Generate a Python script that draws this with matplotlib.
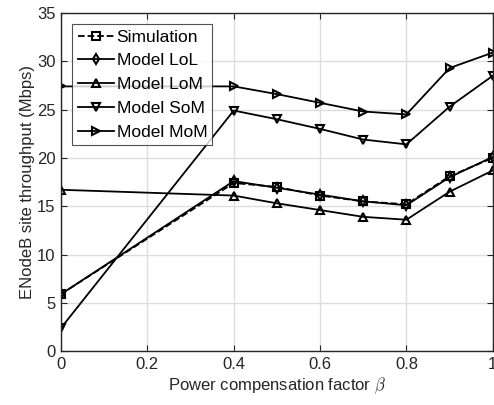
import matplotlib
matplotlib.use("Agg")
import matplotlib.pyplot as plt

plt.rcParams["font.family"] = ["Liberation Sans", "DejaVu Sans"]
plt.rcParams["mathtext.fontset"] = "cm"

beta = [0.0, 0.4, 0.5, 0.6, 0.7, 0.8, 0.9, 1.0]
simulation = [5.9, 17.4, 17.0, 16.1, 15.5, 15.2, 18.1, 20.0]
model_lol = [5.9, 17.6, 16.9, 16.2, 15.5, 15.1, 18.0, 20.1]
model_lom = [16.7, 16.1, 15.3, 14.6, 13.9, 13.6, 16.5, 18.7]
model_som = [2.4, 24.9, 24.0, 23.0, 21.9, 21.4, 25.3, 28.5]
model_mom = [27.4, 27.4, 26.6, 25.7, 24.8, 24.5, 29.3, 30.9]

fig = plt.figure(figsize=(4.94, 4.05), dpi=100)
ax = fig.add_axes([0.1235, 0.133, 0.874, 0.835])

kw = dict(color="black", linewidth=1.3, markersize=5.5, markerfacecolor="none",
          markeredgewidth=1.5)
ax.plot(beta, simulation, linestyle="--", marker="s", label="Simulation", **kw)
ax.plot(beta, model_lol, linestyle="-", marker="d", label="Model LoL", **kw)
ax.plot(beta, model_lom, linestyle="-", marker="^", label="Model LoM", **kw)
ax.plot(beta, model_som, linestyle="-", marker="v", label="Model SoM", **kw)
ax.plot(beta, model_mom, linestyle="-", marker=">", label="Model MoM", **kw)

ax.set_xlim(0, 1)
ax.set_ylim(0, 35)
ax.set_xticks([0, 0.2, 0.4, 0.6, 0.8, 1])
ax.set_xticklabels(["0", "0.2", "0.4", "0.6", "0.8", "1"])
ax.set_yticks(range(0, 36, 5))
ax.grid(True, color="#dddddd", linewidth=1.0)
ax.set_axisbelow(True)
ax.tick_params(direction="in", top=True, right=True, labelsize=12,
               length=4, width=0.8, colors="#262626", pad=4)
for s in ax.spines.values():
    s.set_color("#262626")
    s.set_linewidth(1.0)

ax.set_xlabel(r"Power compensation factor $\beta$", fontsize=12,
              color="#262626", labelpad=3)
ax.set_ylabel("ENodeB site throughput (Mbps)", fontsize=12,
              color="#262626", labelpad=1)

leg = ax.legend(loc="upper left", fontsize=12.5, frameon=True, fancybox=False,
                edgecolor="#262626", borderpad=0.3, labelspacing=0.5,
                handlelength=2.1, handletextpad=0.15, borderaxespad=0.65)
leg.get_frame().set_linewidth(0.8)

fig.savefig("out.png", dpi=100)
